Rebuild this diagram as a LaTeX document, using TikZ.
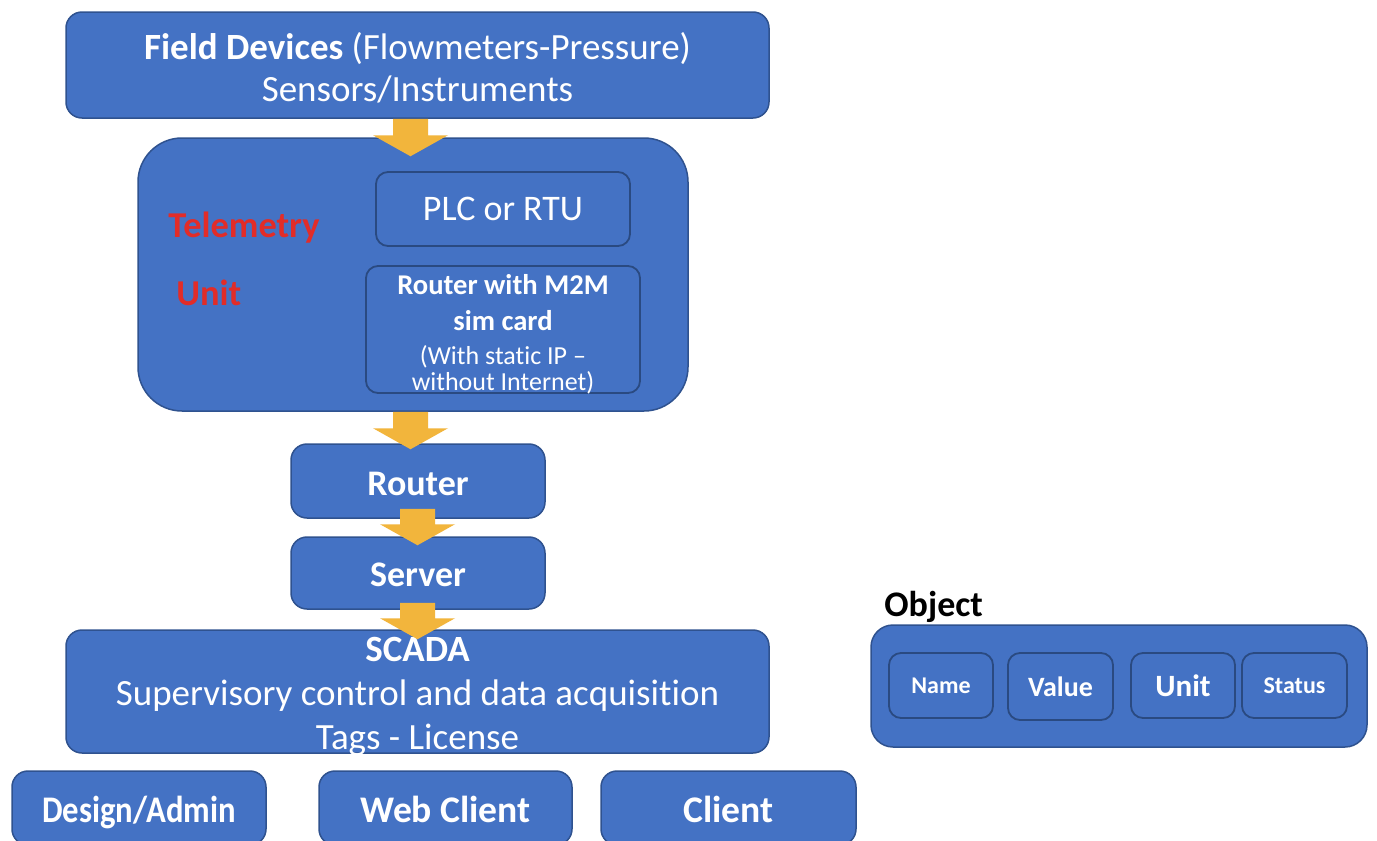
\documentclass[tikz,border=0pt]{standalone}
\usepackage{fontspec}
\setmainfont{Carlito}[Ligatures=NoCommon]
\usetikzlibrary{calc}
\definecolor{boxblue}{HTML}{4472C4}
\definecolor{boxedge}{HTML}{2F528F}
\definecolor{arrowgold}{HTML}{F2B53C}
\definecolor{telered}{RGB}{226,44,40}
\tikzset{
  box/.style={draw=boxedge, line width=0.75pt, fill=boxblue, rounded corners=8pt, text=white, align=center, inner sep=0pt},
  inbox/.style={box, draw=boxedge!90!black, line width=0.9pt, rounded corners=6pt},
  txt/.style={text=white, align=center, inner sep=0pt},
  arrowc/.style={fill=arrowgold},
  redlbl/.style={text=telered, font=\bfseries\fontsize{18.2}{21}\selectfont, inner sep=0pt},
  bigbold/.style={font=\bfseries\fontsize{18}{21}\selectfont, text height=16pt, text depth=2pt},
  clientbold/.style={font=\bfseries\fontsize{18.8}{22}\selectfont, text height=16pt, text depth=2pt}
}
\newcommand\blockarrow[2]{%
  \fill[arrowc] ($(#1)+(-17.5,0)$) -- ($(#1)+(17.5,0)$) -- ($(#2)+(17.5,-21)$) -- ($(#2)+(37.5,-21)$) -- (#2) -- ($(#2)+(-37.5,-21)$) -- ($(#2)+(-17.5,-21)$) -- cycle;}
\begin{document}
\begin{tikzpicture}[x=0.5pt, y=-0.5pt]
\useasboundingbox (0,0) rectangle (1377,841);
\clip (0,0) rectangle (1377,841);
\fill[white] (0,0) rectangle (1377,841);

% Field devices
\node[box, minimum width=351.5pt, minimum height=53pt] (fd) at (417.5,65) {};
\node[txt, font=\fontsize{18.5}{21}\selectfont] (fdtxt) at (417.5,67.5)
  {\textbf{Field Devices} (Flowmeters-Pressure)\\Sensors/Instruments};

% Telemetry unit
\node[box, rounded corners=22pt, minimum width=275pt, minimum height=136.5pt] (tele) at (413,274.5) {};
\node[redlbl] (tlabel) at (244,228) {Telemetry};
\node[redlbl, anchor=west] (ulabel) at (176,293) {Unit};
\node[inbox, minimum width=127pt, minimum height=37pt, font=\fontsize{18}{21}\selectfont] (plc) at (503,209) {PLC or RTU};
\node[inbox, minimum width=137pt, minimum height=63.5pt] (m2m) at (503,329.5) {};
\node[txt, font=\bfseries\fontsize{14.3}{18}\selectfont] (m2mtxt) at (503,334)
  {Router with M2M\\
   sim card\\[-1pt]
   \mdseries\fontsize{13}{13}\selectfont (With static IP –\\[-5pt]
   \mdseries\fontsize{13}{13}\selectfont without Internet)};

% Router, Server
\node[box, bigbold, minimum width=127pt, minimum height=37pt] (router) at (418,481) {Router};
\node[box, bigbold, minimum width=127pt, minimum height=36pt, text height=15.5pt] (server) at (418,573) {Server};

% SCADA
\node[box, minimum width=351.5pt, minimum height=61.5pt] (scada) at (417.5,691.5) {};
\node[txt, font=\fontsize{18.5}{22}\selectfont] (scadatxt) at (417.5,696.5)
  {\textbf{SCADA}\\Supervisory control and data acquisition\\Tags - License};

% Clients
\node[box, clientbold, minimum width=127pt, minimum height=37pt] (design) at (139,808) {\scalebox{0.87}[1]{Design/Admin}};
\node[box, clientbold, minimum width=126.5pt, minimum height=37pt] (web) at (445.5,808) {Web Client};
\node[box, clientbold, minimum width=127.5pt, minimum height=37pt] (client) at (728.5,808) {Client};

% Object
\node[anchor=west, inner sep=0pt, font=\bfseries\fontsize{18}{21}\selectfont] (objlbl) at (884,607) {Object};
\node[box, rounded corners=11pt, minimum width=248pt, minimum height=61pt] (obj) at (1119,686) {};
\node[inbox, minimum width=52pt, minimum height=32.5pt, font=\bfseries\fontsize{12}{14}\selectfont] (name) at (941,685.5) {Name};
\node[inbox, minimum width=52.5pt, minimum height=33.5pt, font=\bfseries\fontsize{14}{16}\selectfont] (value) at (1060.5,686.5) {Value};
\node[inbox, minimum width=52pt, minimum height=32.5pt, font=\bfseries\fontsize{15.5}{18}\selectfont] (unit) at (1183,685.5) {Unit};
\node[inbox, minimum width=52.5pt, minimum height=32.5pt, font=\bfseries\fontsize{12}{14}\selectfont] (status) at (1294.5,685.5) {Status};

% Arrows
\coordinate (a1s) at ($(fd.south)+(-7,0)$);
\coordinate (a1e) at ($(tele.north)+(-2.5,19)$);
\coordinate (a2s) at ($(tele.south)+(-2.5,0)$);
\coordinate (a2e) at ($(router.north)+(-7.5,6)$);
\coordinate (a3s) at ($(router.south)+(-0.5,-10)$);
\coordinate (a3e) at ($(server.north)+(-0.5,9)$);
\coordinate (a4s) at ($(server.south)+(-0.5,-7)$);
\coordinate (a4e) at ($(scada.north)+(0,10)$);
\blockarrow{a1s}{a1e}
\blockarrow{a2s}{a2e}
\blockarrow{a3s}{a3e}
\blockarrow{a4s}{a4e}
\end{tikzpicture}
\end{document}
